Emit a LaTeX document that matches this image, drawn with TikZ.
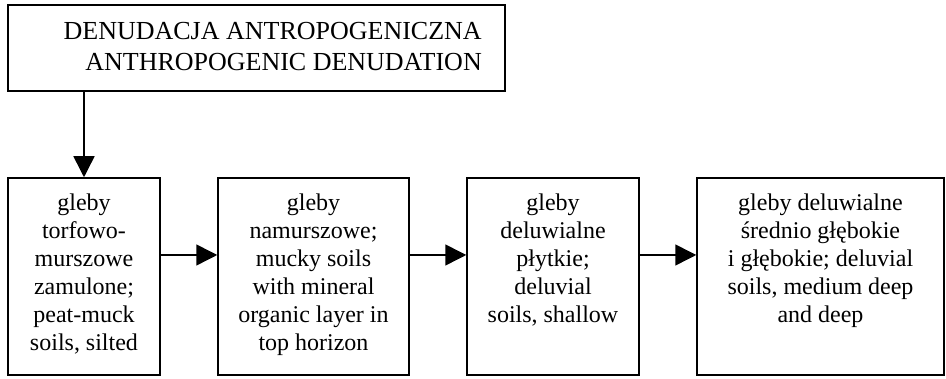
\documentclass[tikz,border=0pt]{standalone}
\usepackage{fontspec}
\setmainfont{Liberation Serif}
\usetikzlibrary{arrows.meta}
\tikzset{
  soilbox/.style = {draw, line width=1.5pt, minimum height=197pt, inner sep=0pt},
  soiltext/.style = {anchor=north, align=center, inner sep=0pt, yshift=-16pt,
    font=\fontsize{24}{28}\selectfont},
  flowarrow/.style = {line width=1.5pt, -{Triangle[length=21pt,width=21pt]}}
}
\begin{document}
\begin{tikzpicture}[x=1pt,y=1pt]
\useasboundingbox (0,0) rectangle (946,379);
\node[draw, line width=1.5pt, minimum width=497pt, minimum height=86pt] (top) at (256.5,331) {};
\node[anchor=north east, align=right, inner sep=0pt, font=\fontsize{26}{31}\selectfont] (toptext) at (482,357)
  {DENUDACJA ANTROPOGENICZNA\\ANTHROPOGENIC DENUDATION};
\node[soilbox, minimum width=152pt] (b1) at (84,102.5) {};
\node[soilbox, minimum width=191pt] (b2) at (313.5,102.5) {};
\node[soilbox, minimum width=172pt] (b3) at (553,102.5) {};
\node[soilbox, minimum width=247pt] (b4) at (820.5,102.5) {};
\node[soiltext] (t1) at (b1.north) {gleby\\torfowo-\\murszowe\\zamulone;\\peat-muck\\soils, silted};
\node[soiltext] (t2) at (b2.north) {gleby\\namurszowe;\\mucky soils\\with mineral\\organic layer in\\top horizon};
\node[soiltext] (t3) at (b3.north) {gleby\\deluwialne\\płytkie;\\deluvial\\soils, shallow};
\node[soiltext] (t4) at (b4.north) {gleby deluwialne\\średnio głębokie\\i głębokie; deluvial\\soils, medium deep\\and deep};
\draw[flowarrow] (top.south -| b1.north) -- (b1.north);
\draw[flowarrow] ([yshift=21.5pt]b1.east) -- ([yshift=21.5pt]b2.west);
\draw[flowarrow] ([yshift=21.5pt]b2.east) -- ([yshift=21.5pt]b3.west);
\draw[flowarrow] ([yshift=21.5pt]b3.east) -- ([yshift=21.5pt]b4.west);
\end{tikzpicture}
\end{document}
